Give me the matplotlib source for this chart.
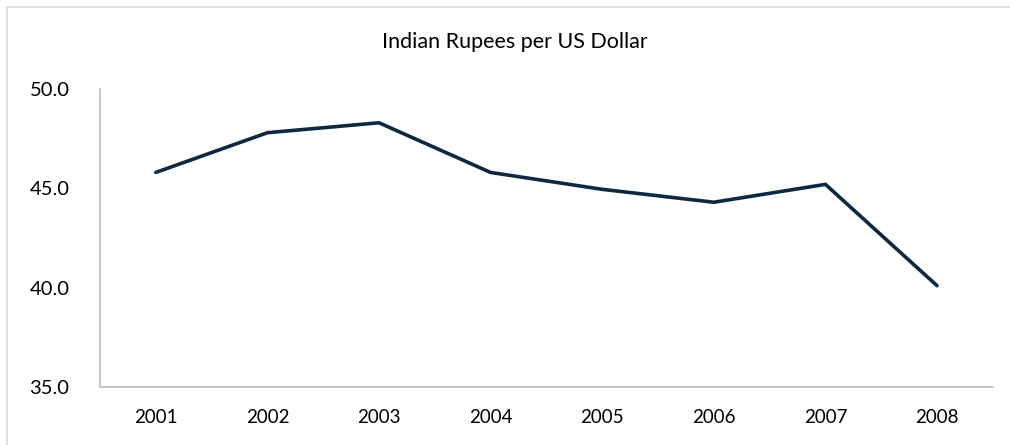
import matplotlib.pyplot as plt
from matplotlib.patches import Rectangle

years = ["2001", "2002", "2003", "2004", "2005", "2006", "2007", "2008"]
rupees = [45.8, 47.8, 48.3, 45.8, 44.95, 44.3, 45.2, 40.1]
y_ticks = [35, 40, 45, 50]

plt.rcParams['font.family'] = ['Lato', 'DejaVu Sans']

fig = plt.figure(figsize=(10.1, 4.45), dpi=100)
ax = fig.add_axes([0.099, 0.1303, 0.884, 0.6697])

x = list(range(len(years)))
ax.plot(x, rupees, color="#0e2841", linewidth=2.6, solid_capstyle="round")

ax.set_xlim(-0.5, len(years) - 0.5)
ax.set_ylim(35, 50)
ax.set_xticks(x)
ax.set_xticklabels(years)
ax.set_yticks(y_ticks)
ax.set_yticklabels([f"{v:.1f}" for v in y_ticks])
ax.tick_params(axis="both", length=0, colors="#000000")
ax.tick_params(axis="x", pad=16, labelsize=13.5)
ax.tick_params(axis="y", pad=22, labelsize=14.5)

for side in ["top", "right"]:
    ax.spines[side].set_visible(False)
for side in ["left", "bottom"]:
    ax.spines[side].set_color("#bfbfbf")
    ax.spines[side].set_linewidth(1.2)

fig.text(0.51, 0.905, "Indian Rupees per US Dollar", ha="center", va="center", fontsize=15.5)

# light frame around the chart area
fig.patches.append(Rectangle((7 / 1010, -0.1), 1.2, 1 - 7 / 445 + 0.1,
                             transform=fig.transFigure, fill=False,
                             edgecolor="#d9d9d9", linewidth=1.2))

fig.savefig("out.png", dpi=100)
